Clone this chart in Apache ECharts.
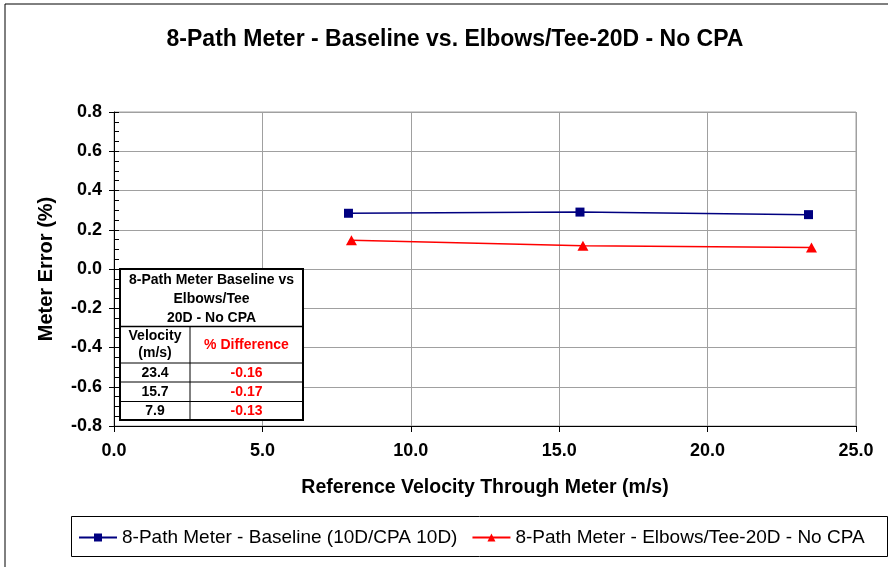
<!DOCTYPE html>
<html>
<head>
<meta charset="utf-8">
<script src="https://cdn.jsdelivr.net/npm/echarts@6/dist/echarts.min.js"></script>
<style>html,body{margin:0;padding:0;background:#fff;}#c{width:888px;height:567px;}</style>
</head>
<body>
<div id="c"></div>
<script>
var titleText = '8-Path Meter - Baseline vs. Elbows/Tee-20D - No CPA';
var seriesNames = ['8-Path Meter - Baseline (10D/CPA 10D)', '8-Path Meter - Elbows/Tee-20D - No CPA'];
var baselineX = [7.9, 15.7, 23.4];
var baselineY = [0.284, 0.290, 0.277];
var elbowsX = [8.0, 15.8, 23.5];
var elbowsY = [0.146, 0.118, 0.110];
var tableTitle = ['8-Path Meter Baseline vs', 'Elbows/Tee', '20D - No CPA'];
var tableHeader = ['Velocity\n(m/s)', '% Difference'];
var tableVelocity = ['23.4', '15.7', '7.9'];
var tableDiff = ['-0.16', '-0.17', '-0.13'];

var FONT = '"Liberation Sans", Arial, sans-serif';
var chart = echarts.init(document.getElementById('c'), null, {renderer: 'canvas'});

function pairs(xs, ys) { return xs.map(function (x, i) { return [x, ys[i]]; }); }

// table graphic (annotation)
var tX = 120, tY = 269, tW = 183, colX = 190;
var rowY = [269, 326.5, 363, 382, 401.5, 420];
var tableEls = [];
tableEls.push({type: 'rect', shape: {x: tX, y: tY, width: tW, height: rowY[5] - tY}, style: {fill: '#fff', stroke: '#000', lineWidth: 2}, z: 100});
[2, 3, 4].forEach(function (k) {
  tableEls.push({type: 'line', shape: {x1: tX, y1: rowY[k], x2: tX + tW, y2: rowY[k]}, style: {stroke: '#000', lineWidth: 1}, z: 101});
});
tableEls.push({type: 'line', shape: {x1: tX, y1: rowY[1], x2: tX + tW, y2: rowY[1]}, style: {stroke: '#000', lineWidth: 1.5}, z: 101});
tableEls.push({type: 'line', shape: {x1: colX, y1: rowY[1], x2: colX, y2: rowY[5]}, style: {stroke: '#000', lineWidth: 1}, z: 101});
tableEls.push({type: 'text', x: tX + tW / 2, y: (rowY[0] + rowY[1]) / 2 + 1, style: {text: tableTitle.join('\n'), font: 'bold 14px ' + FONT, fill: '#000', align: 'center', verticalAlign: 'middle', lineHeight: 19}, z: 102});
tableEls.push({type: 'text', x: (tX + colX) / 2, y: (rowY[1] + rowY[2]) / 2, style: {text: tableHeader[0], font: 'bold 14px ' + FONT, fill: '#000', align: 'center', verticalAlign: 'middle', lineHeight: 17}, z: 102});
tableEls.push({type: 'text', x: (colX + tX + tW) / 2, y: (rowY[1] + rowY[2]) / 2, style: {text: tableHeader[1], font: 'bold 14px ' + FONT, fill: '#ff0000', align: 'center', verticalAlign: 'middle'}, z: 102});
tableVelocity.forEach(function (v, i) {
  var cy = (rowY[2 + i] + rowY[3 + i]) / 2 + 0.5;
  tableEls.push({type: 'text', x: (tX + colX) / 2, y: cy, style: {text: v, font: 'bold 14px ' + FONT, fill: '#000', align: 'center', verticalAlign: 'middle'}, z: 102});
  tableEls.push({type: 'text', x: (colX + tX + tW) / 2, y: cy, style: {text: tableDiff[i], font: 'bold 14px ' + FONT, fill: '#ff0000', align: 'center', verticalAlign: 'middle'}, z: 102});
});

var option = {
  backgroundColor: '#fff',
  animation: false,
  title: {text: titleText, left: 455, top: 28, textAlign: 'center', padding: 0, textStyle: {fontFamily: FONT, fontWeight: 'bold', fontSize: 23, color: '#000'}},
  grid: {left: 114, right: 32, top: 112, bottom: 141, show: true, borderColor: '#a0a0a0', borderWidth: 1},
  legend: {
    left: 78, top: 528, padding: 0, itemGap: 14, itemWidth: 38, itemHeight: 10,
    textStyle: {fontFamily: FONT, fontSize: 19, color: '#000'},
    data: seriesNames
  },
  xAxis: {
    type: 'value', min: 0, max: 25, interval: 5,
    axisLine: {show: true, onZero: false, lineStyle: {color: '#000', width: 1}},
    axisTick: {show: true, length: 6, lineStyle: {color: '#000'}},
    splitLine: {show: true, lineStyle: {color: '#a0a0a0', width: 1}},
    axisLabel: {margin: 16, formatter: function (v) { return v.toFixed(1); }, fontFamily: FONT, fontWeight: 'bold', fontSize: 18, color: '#000'},
    name: 'Reference Velocity Through Meter (m/s)', nameLocation: 'middle', nameGap: 52,
    nameTextStyle: {fontFamily: FONT, fontWeight: 'bold', fontSize: 19.5, color: '#000'}
  },
  yAxis: [{
    type: 'value', min: -0.8, max: 0.8, interval: 0.2,
    axisLine: {show: true, onZero: false, lineStyle: {color: '#000', width: 1}},
    axisTick: {show: true, length: 5, lineStyle: {color: '#000'}},
    splitLine: {show: true, lineStyle: {color: '#a0a0a0', width: 1}},
    axisLabel: {margin: 12, formatter: function (v) { return (Math.abs(v) < 1e-9 ? 0 : v).toFixed(1); }, fontFamily: FONT, fontWeight: 'bold', fontSize: 18, color: '#000'},
    name: 'Meter Error (%)', nameLocation: 'middle', nameGap: 58, nameRotate: 90,
    nameTextStyle: {fontFamily: FONT, fontWeight: 'bold', fontSize: 20, color: '#000'}
  }, {
    type: 'value', min: -0.8, max: 0.8, interval: 0.2, position: 'left',
    axisLine: {show: false, onZero: false},
    axisTick: {show: true, inside: true, length: 5, lineStyle: {color: '#000'}},
    minorTick: {show: true, splitNumber: 4, length: 5, lineStyle: {color: '#000'}},
    splitLine: {show: false}, axisLabel: {show: false}
  }],
  series: [{
    name: seriesNames[0], type: 'line', data: pairs(baselineX, baselineY),
    symbol: 'rect', symbolSize: 9, itemStyle: {color: '#000080'},
    lineStyle: {color: '#000080', width: 1.5}, z: 3
  }, {
    name: seriesNames[1], type: 'line', data: pairs(elbowsX, elbowsY),
    symbol: 'triangle', symbolSize: [11, 10], itemStyle: {color: '#ff0000'},
    lineStyle: {color: '#ff0000', width: 1.5}, z: 3
  }],
  graphic: [
    {type: 'rect', shape: {x: 5, y: 4, width: 900, height: 600}, style: {fill: 'none', stroke: '#000', lineWidth: 1}, z: 0, silent: true},
    {type: 'rect', shape: {x: 71.5, y: 516.5, width: 816, height: 40}, style: {fill: 'none', stroke: '#000', lineWidth: 1}, z: 0, silent: true},
    {type: 'group', children: tableEls}
  ]
};
chart.setOption(option);
</script>
</body>
</html>
